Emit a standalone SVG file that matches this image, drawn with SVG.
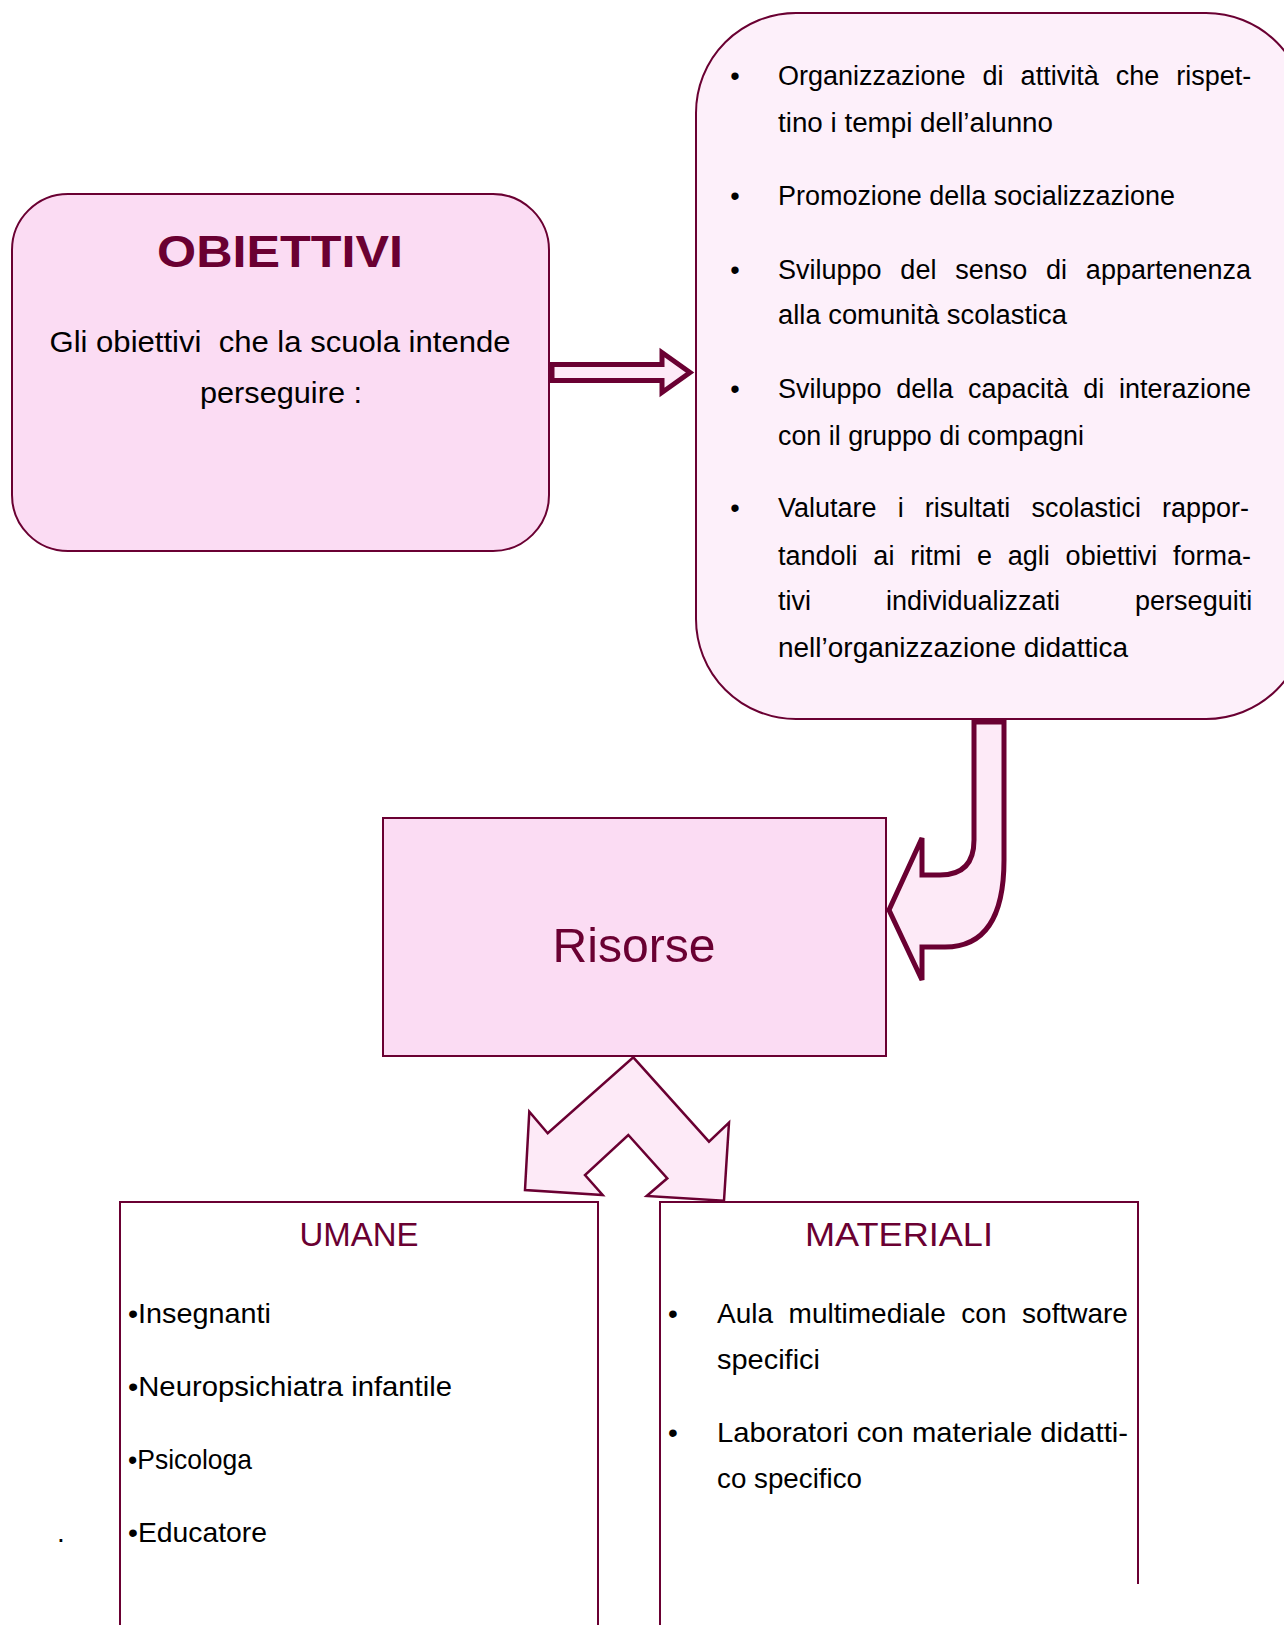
<svg xmlns="http://www.w3.org/2000/svg" width="1284" height="1625" viewBox="0 0 1284 1625">
<style>
.box{stroke:#6a0032;stroke-width:2}
.arrow{fill:#fdeaf7;stroke:#6a0032;stroke-linejoin:miter}
.t{font-family:"Liberation Sans","Noto Sans",sans-serif;fill:#000}
.m{font-family:"Liberation Sans","Noto Sans",sans-serif;fill:#6a0032}
.r{font-size:27px}
.u{font-size:28px}
</style>
<rect width="1284" height="1625" fill="#ffffff"/>
<g id="node-obiettivi">
<rect class="box" x="12" y="194" width="537" height="357" rx="56" fill="#fbdcf3"/>
<text class="m" x="280" y="267" font-size="44" font-weight="bold" text-anchor="middle" textLength="246" lengthAdjust="spacingAndGlyphs">OBIETTIVI</text>
<text class="t" x="280" y="352" font-size="29" text-anchor="middle" xml:space="preserve" textLength="461" lengthAdjust="spacingAndGlyphs">Gli obiettivi  che la scuola intende</text>
<text class="t" x="281" y="403" font-size="29" text-anchor="middle" textLength="162" lengthAdjust="spacingAndGlyphs">perseguire :</text>
</g>
<g id="node-elenco">
<rect class="box" x="696" y="13" width="610" height="706" rx="100" fill="#fdf0fa"/>
<g class="t r">
<text x="735" y="85" text-anchor="middle">•</text>
<text x="735" y="205" text-anchor="middle">•</text>
<text x="735" y="279" text-anchor="middle">•</text>
<text x="735" y="398" text-anchor="middle">•</text>
<text x="735" y="517" text-anchor="middle">•</text>
<text x="778" y="85" word-spacing="9.5">Organizzazione di attività che rispet-</text>
<text x="778" y="132" textLength="275" lengthAdjust="spacingAndGlyphs">tino i tempi dell’alunno</text>
<text x="778" y="205" textLength="397" lengthAdjust="spacingAndGlyphs">Promozione della socializzazione</text>
<text x="778" y="279" word-spacing="11.3">Sviluppo del senso di appartenenza</text>
<text x="778" y="324" textLength="289" lengthAdjust="spacingAndGlyphs">alla comunità scolastica</text>
<text x="778" y="398" word-spacing="7.2">Sviluppo della capacità di interazione</text>
<text x="778" y="445" textLength="306" lengthAdjust="spacingAndGlyphs">con il gruppo di compagni</text>
<text x="778" y="517" word-spacing="13.6">Valutare i risultati scolastici rappor-</text>
<text x="778" y="565" word-spacing="8.3">tandoli ai ritmi e agli obiettivi forma-</text>
<text x="778" y="610" word-spacing="67.5">tivi individualizzati perseguiti</text>
<text x="778" y="657" textLength="350" lengthAdjust="spacingAndGlyphs">nell’organizzazione didattica</text>
</g>
</g>
<g id="node-risorse">
<rect class="box" x="383" y="818" width="503" height="238" fill="#fbdcf3"/>
<text class="m" x="634" y="962" font-size="48" text-anchor="middle" textLength="163" lengthAdjust="spacingAndGlyphs">Risorse</text>
</g>
<g id="node-umane">
<path class="box" d="M120 1626 L120 1202 L598 1202 L598 1626" fill="#ffffff"/>
<text class="m" x="359" y="1246" font-size="34" text-anchor="middle" textLength="119" lengthAdjust="spacingAndGlyphs">UMANE</text>
<g class="t u">
<text x="128" y="1323" textLength="143" lengthAdjust="spacingAndGlyphs">•Insegnanti</text>
<text x="128" y="1396" textLength="324" lengthAdjust="spacingAndGlyphs">•Neuropsichiatra infantile</text>
<text x="128" y="1469" textLength="124" lengthAdjust="spacingAndGlyphs">•Psicologa</text>
<text x="128" y="1542" textLength="139" lengthAdjust="spacingAndGlyphs">•Educatore</text>
</g>
</g>
<text class="t" x="57" y="1542" font-size="28">.</text>
<g id="node-materiali">
<path class="box" d="M660 1626 L660 1202 L1138 1202 L1138 1584" fill="#ffffff"/>
<text class="m" x="899" y="1246" font-size="34" text-anchor="middle" textLength="188" lengthAdjust="spacingAndGlyphs">MATERIALI</text>
<g class="t u">
<text x="673" y="1323" text-anchor="middle">•</text>
<text x="673" y="1442" text-anchor="middle">•</text>
<text x="717" y="1323" word-spacing="7.8">Aula multimediale con software</text>
<text x="717" y="1369" textLength="103" lengthAdjust="spacingAndGlyphs">specifici</text>
<text x="717" y="1442" textLength="411" lengthAdjust="spacingAndGlyphs">Laboratori con materiale didatti-</text>
<text x="717" y="1488" textLength="145" lengthAdjust="spacingAndGlyphs">co specifico</text>
</g>
</g>
<g id="connectors">
<path class="arrow" stroke-width="5" d="M552 364.5 L662 364.5 L662 352.5 L690 372.5 L662 392.5 L662 380.5 L552 380.5 Z"/>
<path class="arrow" stroke-width="5" d="M974 722 L974 840 Q974 875 940 875 L922 875 L922 838 L889 910 L922 980 L922 947 L945 947 Q1004 947 1004 860 L1004 722 Z"/>
<path class="arrow" stroke-width="2.5" d="M633.3 1057.3 L709 1141.7 L729 1122.7 L724 1200.7 L646.7 1196 L667.3 1178.3 L628.3 1135 L585 1175 L602.7 1195 L525 1190 L529.3 1111.7 L547.7 1133.3 Z"/>
</g>
</svg>
